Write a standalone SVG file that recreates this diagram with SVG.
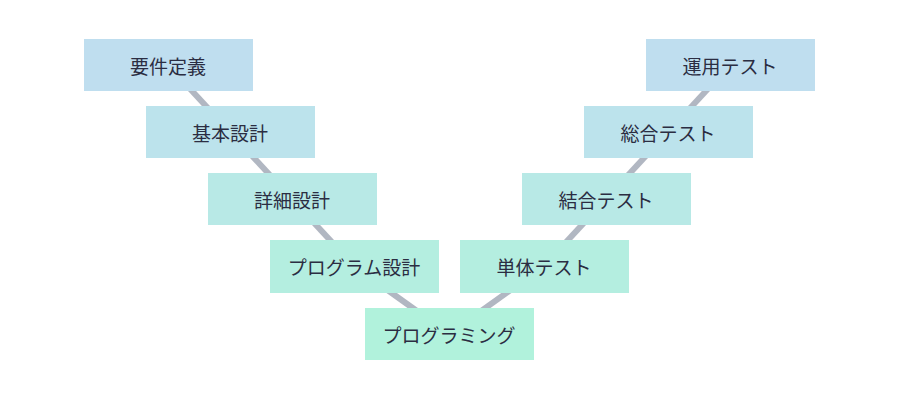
<svg xmlns="http://www.w3.org/2000/svg" width="900" height="400" viewBox="0 0 900 400">
<style>
text{font-family:"Noto Sans CJK JP","Noto Sans",sans-serif;font-size:19px;fill:#2b2d42;text-anchor:middle;dominant-baseline:central}
.c{stroke:#b1b7c2;stroke-width:6;fill:none}
</style>
<rect width="900" height="400" fill="#fff"/>
<g id="connectors">
<line class="c" x1="168" y1="65" x2="230" y2="132"/>
<line class="c" x1="230" y1="132" x2="292" y2="199"/>
<line class="c" x1="292" y1="199" x2="354" y2="266"/>
<line class="c" x1="354" y1="266" x2="449" y2="334"/>
<line class="c" x1="449" y1="334" x2="544" y2="266"/>
<line class="c" x1="544" y1="266" x2="606" y2="199"/>
<line class="c" x1="606" y1="199" x2="668" y2="132"/>
<line class="c" x1="668" y1="132" x2="730" y2="65"/>
</g>
<g id="n1"><rect x="84" y="39" width="169" height="52" fill="#bfdeef"/><text x="168" y="65">要件定義</text></g>
<g id="n2"><rect x="146" y="106" width="169" height="52" fill="#bce3ec"/><text x="230" y="132">基本設計</text></g>
<g id="n3"><rect x="208" y="173" width="169" height="52" fill="#b8e9e6"/><text x="292" y="199">詳細設計</text></g>
<g id="n4"><rect x="270" y="240" width="169" height="53" fill="#b4eee0"/><text x="354" y="266">プログラム設計</text></g>
<g id="n5"><rect x="365" y="308" width="169" height="52" fill="#b1f2dc"/><text x="449" y="334">プログラミング</text></g>
<g id="n6"><rect x="460" y="240" width="169" height="53" fill="#b4eee0"/><text x="544" y="266">単体テスト</text></g>
<g id="n7"><rect x="522" y="173" width="169" height="52" fill="#b8e9e6"/><text x="606" y="199">結合テスト</text></g>
<g id="n8"><rect x="584" y="106" width="169" height="52" fill="#bce3ec"/><text x="668" y="132">総合テスト</text></g>
<g id="n9"><rect x="646" y="39" width="169" height="52" fill="#bfdeef"/><text x="730" y="65">運用テスト</text></g>
</svg>
